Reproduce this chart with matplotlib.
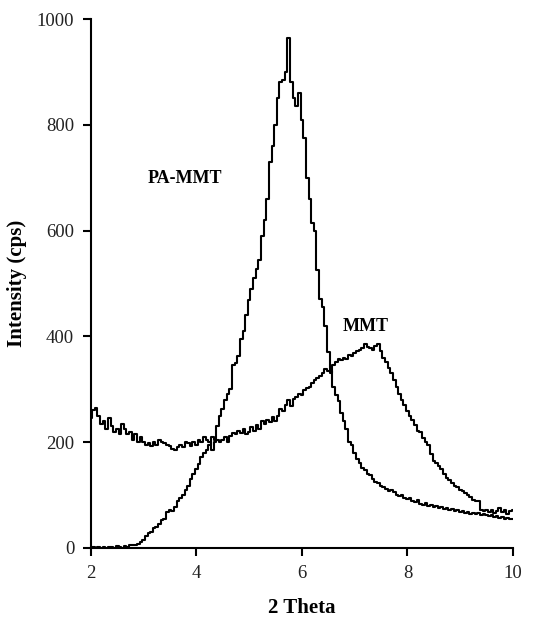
import matplotlib
matplotlib.use("Agg")
import matplotlib.pyplot as plt
import numpy as np

plt.rcParams['font.family'] = ['Liberation Serif', 'DejaVu Serif']

# scan grid, 2-10 deg in 0.05 steps
two_theta = np.round(np.arange(2.0, 10.0001, 0.05), 2)

# PA-MMT intensity (cps)
pa_mmt = [
    0, 2, 0, 1, 0, 2, 0, 1, 2, 0,
    3, 1, 0, 4, 2, 6, 5, 6, 8, 12,
    15, 22, 28, 30, 38, 40, 45, 52, 55, 68,
    72, 70, 78, 88, 95, 100, 110, 118, 130, 140,
    150, 158, 172, 180, 185, 195, 210, 205, 230, 250,
    262, 280, 292, 300, 345, 350, 362, 395, 410, 440,
    468, 490, 510, 528, 545, 590, 620, 660, 730, 760,
    800, 850, 880, 885, 900, 965, 880, 850, 835, 860,
    810, 775, 700, 660, 615, 600, 525, 470, 455, 420,
    370, 335, 305, 290, 278, 255, 240, 225, 200, 195,
    180, 168, 160, 152, 148, 140, 138, 130, 125, 122,
    118, 115, 112, 108, 110, 105, 100, 98, 100, 95,
    92, 95, 88, 86, 90, 84, 82, 85, 80, 82,
    78, 80, 76, 78, 74, 76, 72, 74, 70, 72,
    68, 70, 66, 68, 65, 67, 64, 66, 63, 65,
    62, 60, 62, 58, 60, 57, 58, 55, 57, 54,
    55,
]

# MMT intensity (cps)
mmt = [
    245, 260, 265, 250, 235, 240, 225, 245, 230, 220,
    225, 215, 235, 225, 215, 220, 205, 215, 200, 210,
    200, 195, 198, 192, 200, 195, 205, 200, 198, 195,
    192, 188, 186, 190, 195, 190, 200, 198, 192, 200,
    195, 205, 200, 210, 205, 200, 185, 200, 205, 200,
    205, 210, 200, 212, 218, 215, 222, 218, 225, 215,
    220, 228, 222, 232, 225, 240, 235, 242, 238, 248,
    240, 250, 262, 258, 270, 280, 268, 282, 285, 292,
    290, 298, 302, 305, 312, 318, 322, 325, 330, 338,
    335, 330, 345, 352, 358, 355, 360, 358, 365, 362,
    368, 372, 375, 378, 385, 380, 378, 375, 382, 385,
    372, 360, 352, 340, 330, 318, 305, 292, 280, 270,
    258, 250, 242, 232, 222, 220, 208, 200, 195, 178,
    165, 160, 155, 150, 140, 132, 128, 122, 118, 115,
    110, 108, 104, 100, 96, 90, 88, 88, 72, 70,
    72, 68, 72, 66, 70, 75, 68, 72, 65, 70,
    72,
]

fig = plt.figure(figsize=(5.44, 6.21), dpi=100)
ax = fig.add_axes([0.167, 0.1176, 0.776, 0.8518])

ax.plot(two_theta, pa_mmt, color='black', lw=1.5, drawstyle='steps-mid')
ax.plot(two_theta, mmt, color='black', lw=1.5, drawstyle='steps-mid')

ax.text(3.78, 699, 'PA-MMT', fontsize=13, fontweight='bold', ha='center', va='center')
ax.text(7.21, 418, 'MMT', fontsize=13, fontweight='bold', ha='center', va='center')

ax.set_xlim(2, 10)
ax.set_ylim(0, 1000)
ax.set_xticks([2, 4, 6, 8, 10])
ax.set_yticks([0, 200, 400, 600, 800, 1000])

for s in ['top', 'right']:
    ax.spines[s].set_visible(False)
for s in ['left', 'bottom']:
    ax.spines[s].set_linewidth(1.5)
ax.tick_params(direction='out', length=6, width=1.5, labelsize=13.5, pad=6,
               labelcolor='#222222')

ax.set_xlabel('2 Theta', fontsize=15, fontweight='bold', labelpad=12)
ax.set_ylabel('Intensity (cps)', fontsize=15, fontweight='bold', labelpad=7)

fig.savefig('out.png', dpi=100)
